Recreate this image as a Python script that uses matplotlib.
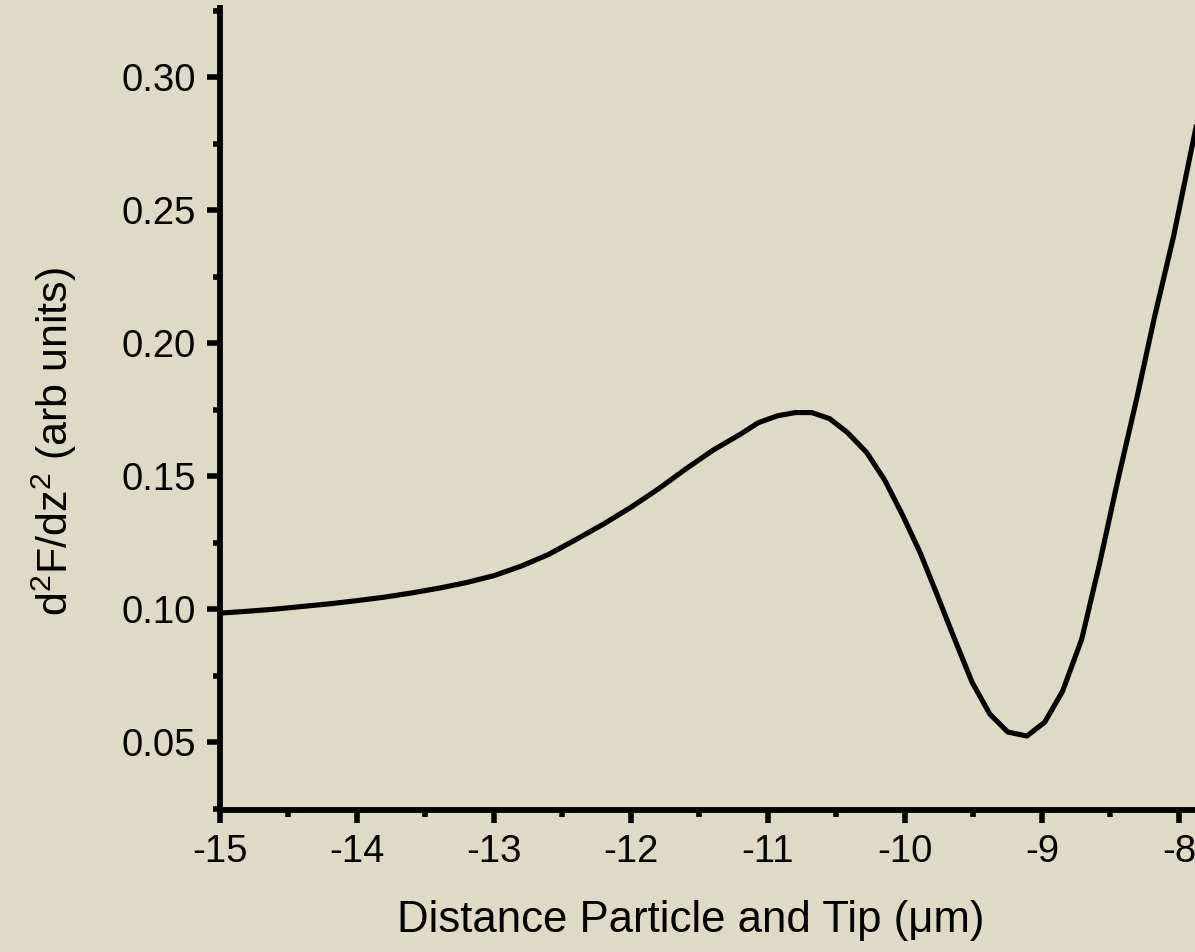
import matplotlib
matplotlib.use("Agg")
import matplotlib.pyplot as plt
from matplotlib.ticker import MultipleLocator, FormatStrFormatter

# ── Data ──────────────────────────────────────────────────────────────────────
distance = [-15.0, -14.8, -14.6, -14.4, -14.2, -14.0, -13.8, -13.6, -13.4,
            -13.2, -13.0, -12.8, -12.6, -12.4, -12.2, -12.0, -11.8, -11.6,
            -11.4, -11.2, -11.07, -10.93, -10.80, -10.68, -10.55,
            -10.42, -10.28, -10.15, -10.02, -9.89, -9.77, -9.64, -9.51,
            -9.38, -9.25, -9.11, -8.98, -8.85, -8.71, -8.58, -8.45, -8.31,
            -8.18, -8.04, -7.91, -7.78]
d2f = [0.0985, 0.0992, 0.1000, 0.1010, 0.1020, 0.1032, 0.1045, 0.1061,
       0.1079, 0.1100, 0.1126, 0.1162, 0.1206, 0.1262, 0.1320, 0.1383,
       0.1452, 0.1527, 0.1598, 0.1658, 0.1701, 0.1727, 0.1739, 0.1739,
       0.1716, 0.1664, 0.1589, 0.1487, 0.1356, 0.1213, 0.1060, 0.0890,
       0.0725, 0.0605, 0.0538, 0.0523, 0.0575, 0.0691, 0.0887, 0.1170,
       0.1476, 0.1788, 0.2095, 0.2400, 0.2726, 0.3050]

x_major = [-15, -14, -13, -12, -11, -10, -9, -8]
x_labels = ["-15", "-14", "-13", "-12", "-11", "-10", "-9", "-8"]

# ── Style ─────────────────────────────────────────────────────────────────────
BG = "#DEDAC4"
FS_TICK = 27.5
FS_LABEL = 31
LW_AXIS = 4.2

plt.rcParams.update({
    "font.family": ["Liberation Sans", "DejaVu Sans"],
    "mathtext.fontset": "custom",
    "mathtext.rm": "Liberation Sans",
    "axes.unicode_minus": False,
})

fig = plt.figure(figsize=(11.95, 9.52), dpi=100, facecolor=BG)
ax = fig.add_axes([0.1841, 0.1492, 0.8159, 0.8424], facecolor=BG)

ax.plot(distance, d2f, color="black", linewidth=3.7, solid_joinstyle="round")

ax.set_xlim(-15, -7.883)
ax.set_ylim(0.0245, 0.326)

ax.xaxis.set_minor_locator(MultipleLocator(0.5))
ax.set_xticks(x_major)
ax.set_xticklabels(x_labels)
ax.yaxis.set_major_locator(MultipleLocator(0.05))
ax.yaxis.set_minor_locator(MultipleLocator(0.025))
ax.yaxis.set_major_formatter(FormatStrFormatter("%.2f"))

for side in ("top", "right"):
    ax.spines[side].set_visible(False)
for side in ("left", "bottom"):
    ax.spines[side].set_linewidth(LW_AXIS)

ax.tick_params(which="major", direction="out", length=9.5, width=4,
               labelsize=FS_TICK, pad=8)
ax.tick_params(which="minor", direction="out", length=5, width=4)

ax.set_xlabel("Distance Particle and Tip (\u03bcm)", fontsize=31.5)
ax.set_ylabel(r"$\mathregular{d^2F/dz^2}$ (arb units)", fontsize=FS_LABEL)
ax.xaxis.set_label_coords(0.483, -0.112)
ax.yaxis.set_label_coords(-0.145, 0.459)

fig.savefig("out.png", dpi=100, facecolor=BG)
